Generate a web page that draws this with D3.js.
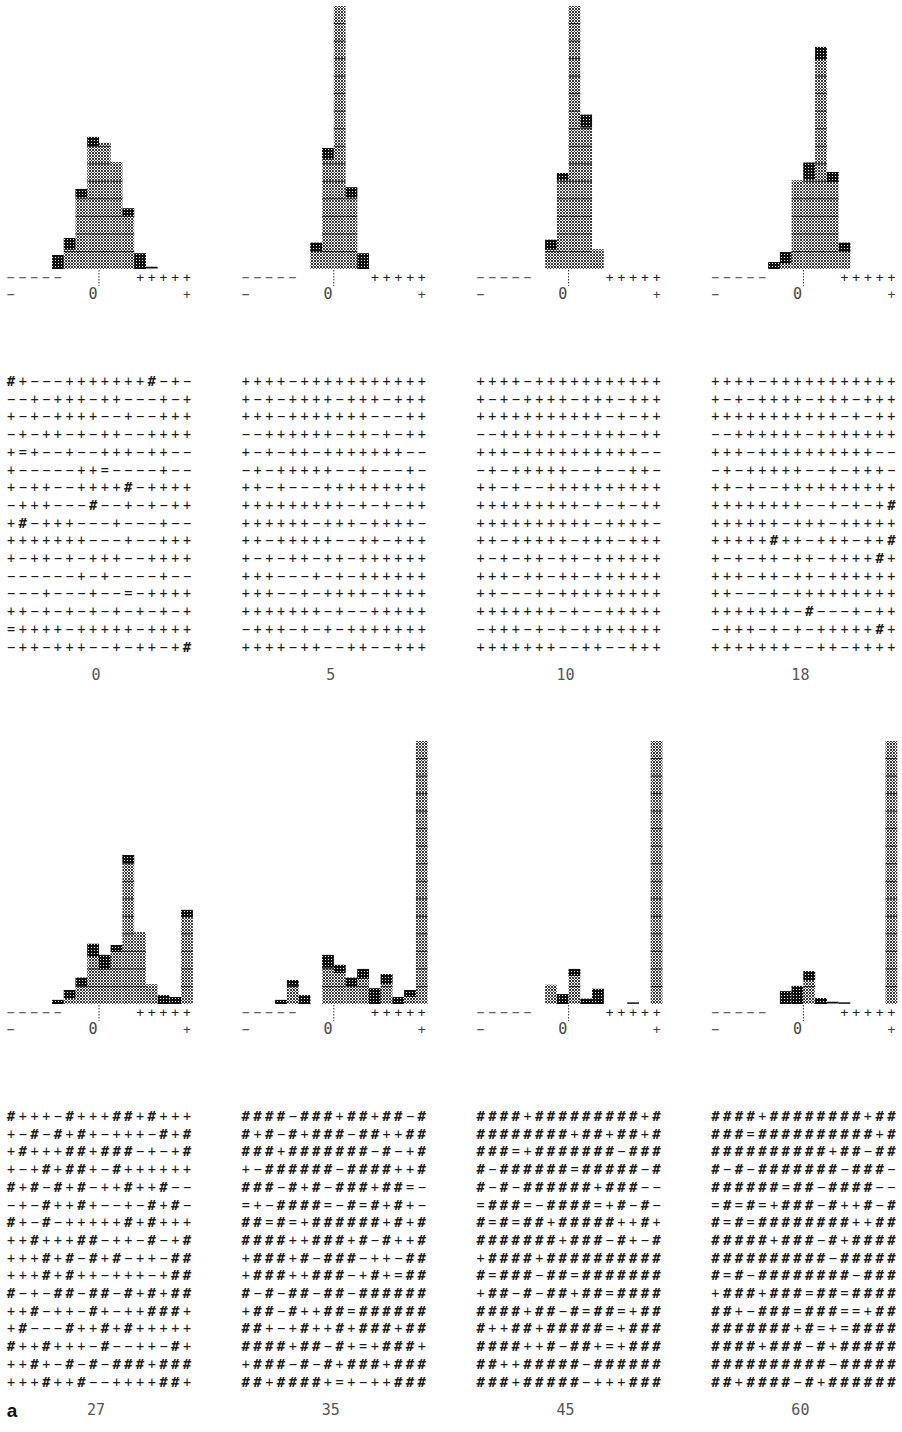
<!DOCTYPE html>
<html><head><meta charset="utf-8">
<script src="https://cdn.jsdelivr.net/npm/d3@7"></script>
<style>body{margin:0;background:#fff}svg{display:block}</style>
</head><body><svg id="c" width="902" height="1432"></svg>
<script>
// ---------- data ----------
const binStarts = d3.range(-8, 8);            // 16 bins, -8 .. 7
const panelLabels = ["0", "5", "10", "18", "27", "35", "45", "60"];
const figureLetter = "a";
const axisMinusBins = [-8, -7, -6, -5, -4];
const axisPlusBins = [3, 4, 5, 6, 7];
const axisLabels = [{bin: -8, t: "-"}, {bin: -1, t: "0"}, {bin: 7, t: "+"}];

// bar heights per bin (-8..7), clipped at 45
const h0  = [0,0,0,0,2.4,5.3,13.7,22.6,21.6,18.3,10.4,2.7,0.3,0,0,0];
const c0  = [0,0,0,0,2.4,2.0,1.4,1.6,0,0,1.4,2.7,0.3,0,0,0];
const h5  = [0,0,0,0,0,0,4.5,20.7,45,14.0,2.7,0,0,0,0,0];
const c5  = [0,0,0,0,0,0,1.5,2.0,0,1.7,2.7,0,0,0,0,0];
const h10 = [0,0,0,0,0,0,5.0,16.4,45,26.4,3.4,0,0,0,0,0];
const c10 = [0,0,0,0,0,0,1.7,1.2,0,2.2,0,0,0,0,0,0];
const h18 = [0,0,0,0,0,1.2,2.9,15.2,18.2,38.0,16.6,4.5,0,0,0,0];
const c18 = [0,0,0,0,0,1.2,1.9,0,2.9,2.2,1.7,1.5,0,0,0,0];
const h27 = [0,0,0,0,0.7,2.4,4.5,10.3,8.4,10.1,25.5,12.3,3.4,1.5,1.2,16.1];
const c27 = [0,0,0,0,0.7,1.4,1.4,2.2,2.5,1.2,1.4,0,0,1.5,1.2,1.2];
const h35 = [0,0,0,0.7,4.1,1.5,0,8.4,6.7,4.5,6.0,2.7,5.1,1.2,2.4,45];
const c35 = [0,0,0,0.7,1.0,1.5,0,2.2,1.4,1.5,1.7,2.7,1.7,1.2,1.2,0];
const h45 = [0,0,0,0,0,0,3.3,1.7,6.0,0.9,2.6,0,0,0.2,0,45];
const c45 = [0,0,0,0,0,0,0,1.7,1.2,0.9,2.6,0,0,0.2,0,0];
const h60 = [0,0,0,0,0,0,2.2,3.1,5.6,1.0,0.3,0.2,0,0,0,45];
const c60 = [0,0,0,0,0,0,2.2,3.1,1.5,1.0,0.3,0.2,0,0,0,0];

// 16 x 16 character fields
const g0 = ["#+---+++++++#-+-","--+-+++-++---+-+","+-+-++++--+--+++","-+-++-+-++--++++",
  "+=+--+--+++-++--","+-----++=----+--","+-++--++++#-++++","-+++---#--+-+-++",
  "+#-+++---+---+--","+++++++---+--+++","+-++-+-+++--++++","------+-+----+--",
  "---+---+--=-++++","++-+-+-+-+-+-+-+","=++++-+++++-++++","-++-+++--+-++-+#"];
const g5 = ["++++-+++++++++++","+-+-++++-+++-+++","+++-+++++++---++","--++++++-++-+-++",
  "+-+-++-+++++++--","-+-+++++--+---+-","++-+---+++++++++","+++++++++-+-+-++",
  "++++++-+++-++++-","++-+++++--++-+++","+-+-++-++-++++++","+++---+-+-++++++",
  "+++--+-++++-++++","+++++++-+--+++++","-+++-+-+-+++++++","++++-++--++--+++"];
const g10 = ["++++-+++++++++++","+-+-++++-+++-+++","+++++++++++-+-++","--++++++-++++-++",
  "+++-++++++++++--","-+-+++++--+--++-","++-+--++++++++++","+++++++++-+-+-++",
  "++++++++++-++++-","++-+++++-+++-+++","+-+-++-++-++++++","+++-++-++-++++++",
  "++---+-+++++++++","+++++++-+--+++++","-+++-+-+-+++++++","+++++++--++--+++"];
const g18 = ["++++-+++++++++++","+-+-++++-+++-+++","+++++++++++-+-++","--++++++-+++++++",
  "+++-++++++++++--","-+-+++++--+-+++-","++-+--++++++++++","++++++++--+-+-+#",
  "++++++-+++-+++++","+++++#++-+++-++#","+-+-++-++-++++#+","+++-++-++-++++++",
  "++---+-+++++++++","+++++++-#---+-++","-+++-+-+-+++++#+","+++++++--++-++++"];
const g27 = ["#+++-#+++##+#+++","+-#-#+#+-+++-#+#","+#+++##+###-+-+#","+-+#+##+-#++++++",
  "#+#-#+#-++#++#--","-+-#++#+--+-#+#-","#+-#-+++++#+#+++","++#+++##-++-#-+#",
  "+++#+#-#+#-++-##","+++#+#++-+++-+##","#-+-##-##-#+#+##","++#-++-#+-++###+",
  "+#---#++#+#+++++","#++#+++-#--++-#+","++#+-#-#-###+###","+++#++#--++++##+"];
const g35 = ["####-###+##+##-#","#+#-#+###-##++##","###+#######-#-+#","+-######-####++#",
  "###-#+#-###+##=-","=+-####=-#=#+#+-","##=#=+######+#+#","####++###+#-#++#",
  "+###+#-###-++-##","+###++###-+#+=##","#-#-##-##-######","+##-#++##=######",
  "##+-+#++#+###+##","####+##-#+=+###+","+###-#-#+###+###","##+####+=+-++###"];
const g45 = ["####+#########+#","########+##+##+#","###=+#######-###","#-######=#####-#",
  "#-#-######+###--","=###=-####=+#-#-","#=#=##+#####++#+","#######+###-#+-#",
  "+####+##########","#=###-##=#######","+##-#-##+##=####","####+##-#=##=+##",
  "#++##+#####=+###","####++#-##+=+###","##++#####-######","###+#####-+++###"];
const g60 = ["####+########+##","###=##########+#","##########+##-##","#-#-#######-###-",
  "######=##-####--","=#=#=+###-#++#-#","#=#=########++##","#####+###-#+####",
  "##########-#####","#=#-########-###","+###+###=##=####","##+-###=###==+##",
  "#######+#=+=####","####+###-#+#####","##########-#####","##+####-#+######"];

const heights = [h0, h5, h10, h18, h27, h35, h45, h60];
const caps = [c0, c5, c10, c18, c27, c35, c45, c60];
const grids = [g0, g5, g10, g18, g27, g35, g45, g60];

// ---------- drawing ----------
const svg = d3.select("#c");
const defs = svg.append("defs");
const st = defs.append("pattern").attr("id", "stip").attr("patternUnits", "userSpaceOnUse")
  .attr("width", 3).attr("height", 3);
st.append("rect").attr("width", 3).attr("height", 3).attr("fill", "#fff");
[[0,0],[1,1],[2,2],[2,0],[0,2]].forEach(([a,b]) => st.append("rect").attr("x", a).attr("y", b)
  .attr("width", 1).attr("height", 1).attr("fill", "#3a3a3a"));
const cp = defs.append("pattern").attr("id", "capp").attr("patternUnits", "userSpaceOnUse")
  .attr("width", 3).attr("height", 3);
cp.append("rect").attr("width", 3).attr("height", 3).attr("fill", "#111");
cp.append("rect").attr("x", 1).attr("y", 2).attr("width", 1).attr("height", 1).attr("fill", "#fff");

const binW = 11.73, colStep = 234.8, rowStep = 735;
const mono = "'DejaVu Sans Mono', 'Liberation Mono', monospace";
const glyph = {"+": "+", "-": "\u2212", "#": "#", "=": "="};

panelLabels.forEach((lab, p) => {
  const col = p % 4, row = Math.floor(p / 4);
  const zero = 99 + col * colStep;
  const base = 269 + row * rowStep;
  const x = d3.scaleLinear().domain([-8, 8]).range([zero - 8 * binW, zero + 8 * binW]);
  const y = d3.scaleLinear().domain([0, 45]).range([base, base - 263]);
  const g = svg.append("g");
  const hs = heights[p], cs = caps[p];

  binStarts.forEach((b, i) => {
    const h = hs[i];
    if (h <= 0) return;
    const x0 = x(b), w = x(b + 1) - x(b);
    if (h < 0.5) {
      g.append("rect").attr("x", x0).attr("y", y(h) - 0.5).attr("width", w)
        .attr("height", Math.max(1.5, y(0) - y(h))).attr("fill", "#111");
      return;
    }
    g.append("rect").attr("x", x0).attr("y", y(h)).attr("width", w)
      .attr("height", y(0) - y(h)).attr("fill", "url(#stip)");
    for (let m = 3; m < h - 0.4; m += 3) {
      g.append("line").attr("x1", x0).attr("x2", x0 + w).attr("y1", y(m)).attr("y2", y(m))
        .attr("stroke", "#222").attr("stroke-width", 1);
    }
    const c = cs[i];
    if (c > 0) {
      g.append("rect").attr("x", x0).attr("y", y(h)).attr("width", w)
        .attr("height", y(h - c) - y(h)).attr("fill", "url(#capp)");
    }
  });

  // zero tick
  g.append("line").attr("x1", x(0)).attr("x2", x(0)).attr("y1", base + 1).attr("y2", base + 17)
    .attr("stroke", "#333").attr("stroke-width", 1).attr("stroke-dasharray", "1.5,1.5");

  // axis row characters
  axisMinusBins.forEach(b => g.append("text").attr("x", x(b + 0.5)).attr("y", base + 8)
    .attr("text-anchor", "middle").attr("dominant-baseline", "central")
    .attr("font-family", mono).attr("font-size", 13).attr("fill", "#555").text("\u2212"));
  axisPlusBins.forEach(b => g.append("text").attr("x", x(b + 0.5)).attr("y", base + 8)
    .attr("text-anchor", "middle").attr("dominant-baseline", "central")
    .attr("font-family", mono).attr("font-size", 13).attr("fill", "#222").text("+"));
  axisLabels.forEach(a => g.append("text").attr("x", x(a.bin + 0.5)).attr("y", base + 25)
    .attr("text-anchor", "middle").attr("dominant-baseline", "central")
    .attr("font-family", mono).attr("font-size", a.t === "0" ? 15 : 13)
    .attr("fill", "#444").text(a.t === "-" ? "\u2212" : a.t));

  // character field
  const gy0 = 381 + row * rowStep, gStep = 17.7;
  grids[p].forEach((line, r) => {
    line.split("").forEach((ch, k) => {
      g.append("text").attr("x", x(binStarts[k] + 0.5)).attr("y", gy0 + r * gStep)
        .attr("text-anchor", "middle").attr("dominant-baseline", "central")
        .attr("font-family", mono).attr("font-size", ch === "#" ? 14 : 13.5)
        .attr("font-weight", ch === "#" ? "bold" : "normal")
        .attr("fill", "#1a1a1a").text(glyph[ch]);
    });
  });

  // panel label
  g.append("text").attr("x", zero - 3).attr("y", 675 + row * rowStep)
    .attr("text-anchor", "middle").attr("dominant-baseline", "central")
    .attr("font-family", mono).attr("font-size", 15).attr("fill", "#555").text(lab);
});

svg.append("text").attr("x", 12).attr("y", 1410).attr("text-anchor", "middle")
  .attr("dominant-baseline", "central").attr("font-family", "'Liberation Sans', Arial, sans-serif")
  .attr("font-weight", "bold").attr("font-size", 19).attr("fill", "#111").text(figureLetter);
</script></body></html>
